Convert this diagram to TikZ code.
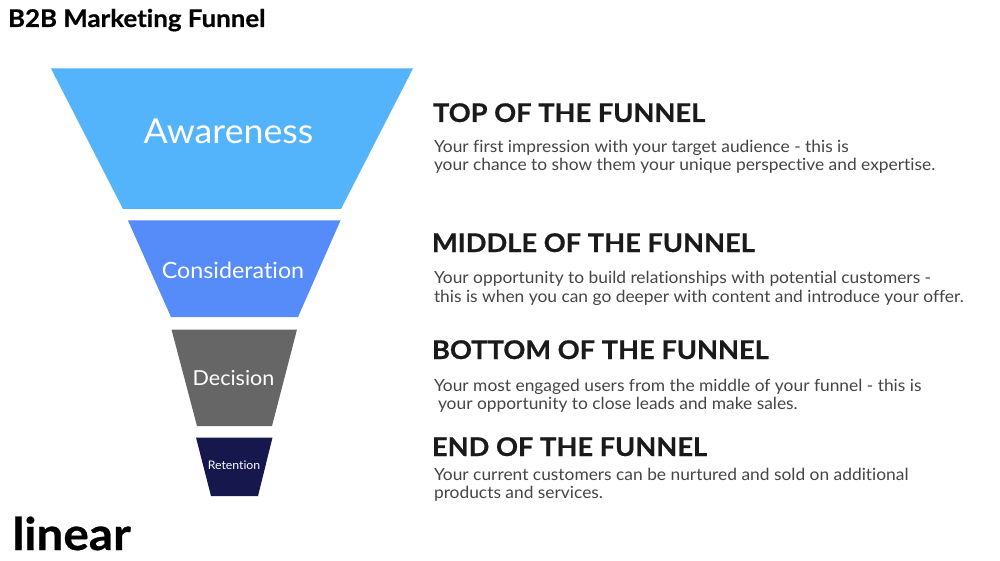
\documentclass[tikz,border=0pt]{standalone}
\usepackage{fontspec}
\setmainfont[Ligatures=NoCommon,FakeStretch=1.04,BoldFeatures={FakeStretch=1.06,FakeBold=0.6}]{Lato}
\definecolor{cAware}{HTML}{54B4FB}
\definecolor{cCons}{HTML}{558CFA}
\definecolor{cDec}{HTML}{666666}
\definecolor{cRet}{HTML}{15174D}
\definecolor{cHead}{HTML}{1A1A1A}
\definecolor{cBody}{HTML}{454545}
\newcommand{\fs}[1]{\fontsize{#1}{#1}\selectfont}
\tikzset{
  x=1pt,y=-1pt,
  txt/.style={anchor=base west,inner sep=0pt,outer sep=0pt},
  stage/.style={anchor=base,inner sep=0pt,outer sep=0pt,text=white},
  heading/.style={txt,text=cHead,font=\fs{25.7}\bfseries},
  bodytext/.style={txt,text=cBody,font=\fs{16.7}},
}
\begin{document}
\begin{tikzpicture}
\useasboundingbox (0,0) rectangle (1000,561);
\fill[white] (0,0) rectangle (1000,561);
\fill[cAware] (51,68.5) -- (413,68.5) -- (341,209) -- (123,209) -- cycle;
\fill[cCons] (128,220.5) -- (340.5,220.5) -- (298,317) -- (171,317) -- cycle;
\fill[cDec] (171.5,329.5) -- (297,329.5) -- (272,426) -- (197,426) -- cycle;
\fill[cRet] (196,437.5) -- (272.5,437.5) -- (258,496) -- (211,496) -- cycle;
\node[txt,text=black,font=\fs{24.4}\bfseries] (title) at (8,27) {B2B Marketing Funnel};
\node[txt,text=black,font=\fs{45}\bfseries] (logo) at (12.5,550) {linear};
\node[stage,font=\fs{34.4}] (aw) at (228.5,144) {Awareness};
\node[stage,font=\fs{22.4}] (co) at (233,278) {Consideration};
\node[stage,font=\fs{20.7}] (de) at (233.5,385) {Decision};
\node[stage,font=\fs{11.8}] (re) at (234,469) {Retention};
\node[heading] (h1) at (433,122) {TOP OF THE FUNNEL};
\node[bodytext] (b1a) at (434,153) {Your first impression with your target audience - this is};
\node[bodytext] (b1b) at (434,171) {your chance to show them your unique perspective and expertise.};
\node[heading] (h2) at (432,252) {MIDDLE OF THE FUNNEL};
\node[bodytext] (b2a) at (434,283) {Your opportunity to build relationships with potential customers -};
\node[bodytext] (b2b) at (434,302) {this is when you can go deeper with content and introduce your offer.};
\node[heading] (h3) at (432,359) {BOTTOM OF THE FUNNEL};
\node[bodytext] (b3a) at (434,391) {Your most engaged users from the middle of your funnel - this is};
\node[bodytext] (b3b) at (438,409) {your opportunity to close leads and make sales.};
\node[heading] (h4) at (432,456) {END OF THE FUNNEL};
\node[bodytext] (b4a) at (434,480) {Your current customers can be nurtured and sold on additional};
\node[bodytext] (b4b) at (434,498) {products and services.};
\end{tikzpicture}
\end{document}
